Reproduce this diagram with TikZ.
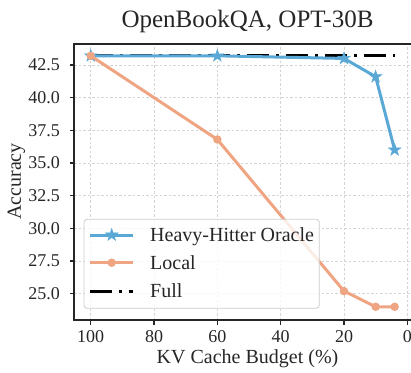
\documentclass[tikz,border=0pt]{standalone}
\usepackage{fontspec}
\setmainfont{Liberation Serif}
\usetikzlibrary{shapes.geometric}
\definecolor{hblue}{HTML}{5AA8D6}
\definecolor{lorange}{HTML}{EFA582}
\definecolor{gridc}{HTML}{D4D4D4}
\definecolor{txt}{HTML}{262626}
\definecolor{legc}{HTML}{CCCCCC}
\tikzset{
  gridline/.style={draw=gridc, line width=0.8pt, dash pattern=on 2.5pt off 2pt},
  frame/.style={draw=txt, line width=1.5pt},
  tickmark/.style={draw=txt, line width=1.3pt},
  hline/.style={draw=hblue, line width=3pt, line join=round, line cap=round},
  lline/.style={draw=lorange, line width=3pt, line join=round, line cap=round},
  fline/.style={draw=black, line width=3pt, dash pattern=on 22pt off 7pt on 3pt off 7pt},
  hmark/.style={star, star points=5, star point ratio=2.6, fill=hblue, draw=hblue, line width=0.5pt, inner sep=0pt, minimum size=13pt},
  lmark/.style={circle, fill=lorange, inner sep=0pt, minimum size=8.5pt},
  ticklab/.style={text=txt, font=\fontsize{18}{20}\selectfont, inner sep=0pt},
  labtxt/.style={text=txt, font=\fontsize{20}{22}\selectfont, inner sep=0pt},
  legbox/.style={draw=legc, fill=white, fill opacity=0.8, rounded corners=3pt, line width=0.8pt},
}
\begin{document}
\begin{tikzpicture}[x=1pt,y=1pt]
\useasboundingbox (0,0) rectangle (411,372);
\clip (0,0) rectangle (411,372);
% grid
\foreach \xv in {90.7,154,217.3,280.7,344,407.3} \draw[gridline] (\xv,52) -- (\xv,328);
\foreach \yv in {78.3,111,143.65,176.3,209,241.7,274.35,307} \draw[gridline] (74,\yv) -- (421,\yv);
% data
\begin{scope}[x=-3.166pt, y=13.07pt, shift={(407.3pt,-248.45pt)}]
  \coordinate (f1) at (100,43.2);
  \coordinate (f2) at (4,43.2);
  \coordinate (h1) at (100,43.2);
  \coordinate (h2) at (60,43.2);
  \coordinate (h3) at (20,43.0);
  \coordinate (h4) at (10,41.6);
  \coordinate (h5) at (4,36.0);
  \coordinate (l1) at (100,43.2);
  \coordinate (l2) at (60,36.8);
  \coordinate (l3) at (20,25.2);
  \coordinate (l4) at (10,24.0);
  \coordinate (l5) at (4,24.0);
\end{scope}
\draw[fline] (f1) -- (f2);
\draw[hline] (h1) -- (h2) -- (h3) -- (h4) -- (h5);
\foreach \p in {h1,h2,h3,h4,h5} \node[hmark] at (\p) {};
\draw[lline] (l1) -- (l2) -- (l3) -- (l4) -- (l5);
\foreach \p in {l1,l2,l3,l4,l5} \node[lmark] at (\p) {};
% frame
\draw[frame] (421,52) -- (74,52) -- (74,328) -- (421,328);
% ticks and labels
\foreach \xv/\lab in {90.7/100,154/80,217.3/60,280.7/40,344/20,407.3/0} {
  \draw[tickmark] (\xv,52) -- (\xv,47.5);
  \node[ticklab, anchor=base] at (\xv,29.7) {\lab};
}
\foreach \yv/\lab in {78.3/25.0,111/27.5,143.65/30.0,176.3/32.5,209/35.0,241.7/37.5,274.35/40.0,307/42.5} {
  \draw[tickmark] (74,\yv) -- (69.5,\yv);
  \node[ticklab, anchor=east] at (60,\yv) {\lab};
}
% legend
\draw[legbox] (84,63.7) rectangle (319.3,152.7);
\draw[hline, line cap=butt] (90,137) -- (133.3,137);
\node[hmark] (lgh) at (111.7,137) {};
\node[labtxt, anchor=base west] (lth) at (150,130.5) {Heavy-Hitter Oracle};
\draw[lline, line cap=butt] (90,109.3) -- (133.3,109.3);
\node[lmark] (lgl) at (111.7,109.3) {};
\node[labtxt, anchor=base west] (ltl) at (150,102.8) {Local};
\draw[fline] (90,81) -- (133.3,81);
\node[labtxt, anchor=base west] (ltf) at (150,74.5) {Full};
% titles
\node[text=txt, font=\fontsize{25}{27}\selectfont, inner sep=0pt, anchor=base] (title) at (247.5,344.7) {OpenBookQA, OPT-30B};
\node[labtxt, anchor=base] (xlab) at (247.5,8.5) {KV Cache Budget (\%)};
\node[labtxt, rotate=90, anchor=center] (ylab) at (16.5,190.5) {Accuracy};
\end{tikzpicture}
\end{document}
